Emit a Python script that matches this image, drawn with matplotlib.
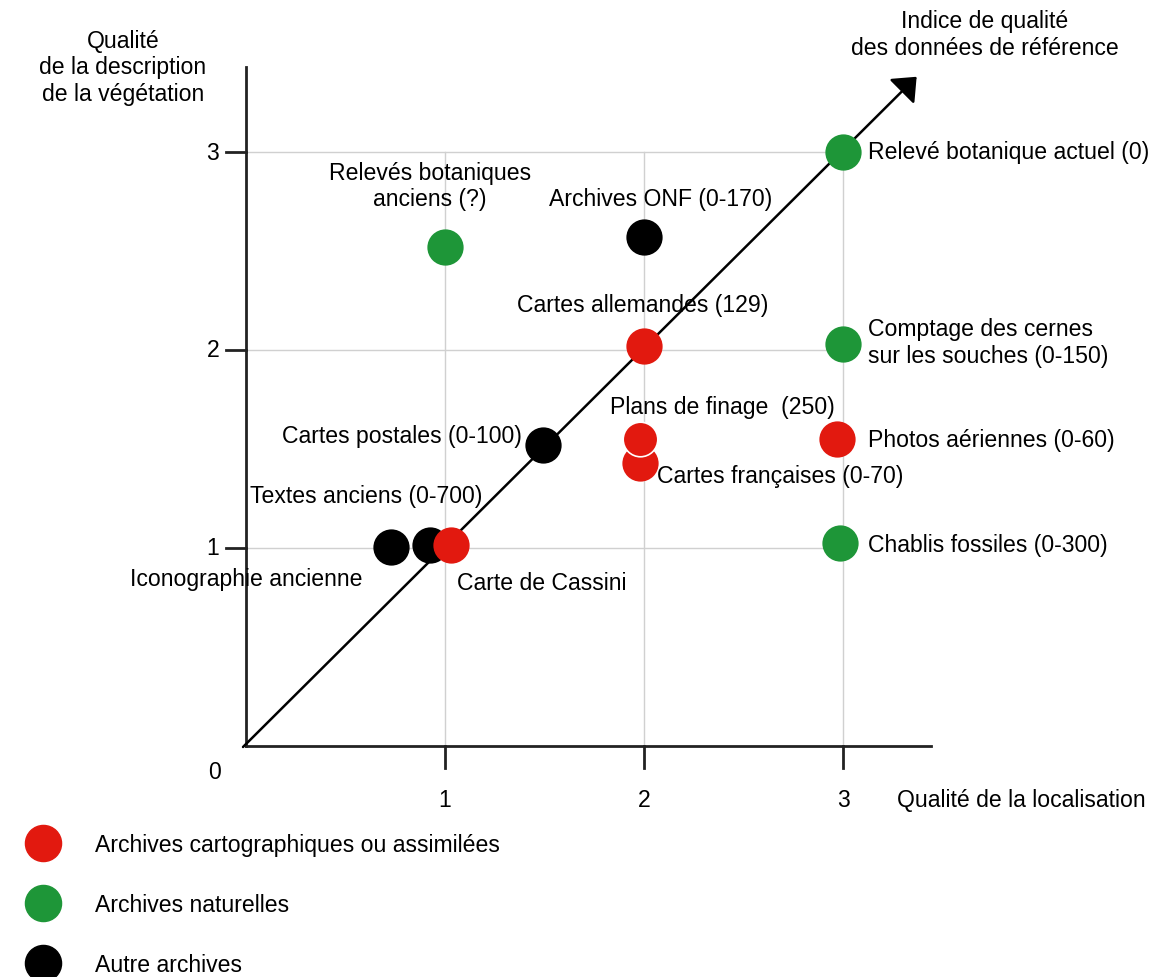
import matplotlib.pyplot as plt
from matplotlib.lines import Line2D

plt.rcParams['font.family'] = ['Liberation Sans', 'DejaVu Sans']

# sources: name, localisation quality (x), vegetation description quality (y), category
names = ['Relevé botanique actuel (0)', 'Relevés botaniques\nanciens (?)', 'Archives ONF (0-170)',
         'Cartes allemandes (129)', 'Comptage des cernes\nsur les souches (0-150)',
         'Cartes françaises (0-70)', 'Plans de finage  (250)', 'Photos aériennes (0-60)',
         'Cartes postales (0-100)', 'Iconographie ancienne', 'Textes anciens (0-700)',
         'Carte de Cassini', 'Chablis fossiles (0-300)']
x_loc = [3.0, 1.0, 2.0, 2.0, 3.0, 1.98, 1.98, 2.97, 1.49, 0.73, 0.925, 1.03, 2.985]
y_veg = [3.0, 2.52, 2.57, 2.02, 2.03, 1.43, 1.55, 1.55, 1.52, 1.005, 1.015, 1.015, 1.025]
cat = ['nat', 'nat', 'autre', 'carto', 'nat', 'carto', 'carto', 'carto', 'autre',
       'autre', 'autre', 'carto', 'nat']

cat_labels = {'carto': 'Archives cartographiques ou assimilées',
              'nat': 'Archives naturelles',
              'autre': 'Autre archives'}
colors = {'carto': '#e2190f', 'nat': '#1e9638', 'autre': 'black'}

# label placement (data units): x, y, horizontal alignment
label_pos = [(3.126, 3.0, 'left'), (0.925, 2.83, 'center'), (1.523, 2.763, 'left'),
             (1.362, 2.232, 'left'), (3.126, 2.04, 'left'), (2.065, 1.364, 'left'),
             (1.829, 1.717, 'left'), (3.126, 1.55, 'left'), (0.181, 1.566, 'left'),
             (-0.583, 0.848, 'left'), (0.02, 1.263, 'left'), (1.06, 0.828, 'left'),
             (3.126, 1.02, 'left')]

ticks = [1, 2, 3]
fs = 16.6
lsp = 1.2

fig = plt.figure(figsize=(11.63, 9.78), dpi=100)
ax = fig.add_axes([0, 0, 1, 1])
ax.set_xlim(-246 / 199, (1163 - 246) / 199)
ax.set_ylim((747 - 978) / 198, 747 / 198)
ax.axis('off')

# grid
for t in ticks:
    ax.plot([t, t], [0, 3], color='#d0d0d0', lw=1, zorder=1)
    ax.plot([0, 3], [t, t], color='#d0d0d0', lw=1, zorder=1)

# axes lines and ticks
ax.plot([0, 0], [0, 3.43], color='#222222', lw=2, zorder=2)
ax.plot([0, 3.44], [0, 0], color='#222222', lw=2, zorder=2)
for t in ticks:
    ax.plot([-0.1, 0], [t, t], color='#222222', lw=2, zorder=2)
    ax.plot([t, t], [0, -0.11], color='#222222', lw=2, zorder=2)
    ax.text(-0.166, t, str(t), fontsize=fs, ha='center', va='center')
    ax.text(t, -0.268, str(t), fontsize=fs, ha='center', va='center')
ax.text(-0.156, -0.131, '0', fontsize=fs, ha='center', va='center')

# diagonal arrow: reference data quality index
ax.annotate('', xy=(3.37, 3.38), xytext=(-0.015, -0.005),
            arrowprops=dict(arrowstyle='-|>,head_length=0.65,head_width=0.55',
                            mutation_scale=20, color='black', lw=1.8,
                            shrinkA=0, shrinkB=0), zorder=3)

# points
for i in range(len(names)):
    edge = 'white' if names[i].startswith('Plans') else colors[cat[i]]
    ax.scatter(x_loc[i], y_veg[i], s=620, color=colors[cat[i]], edgecolors=edge,
               linewidths=1.2, zorder=4 + i * 0.01)
    lx, ly, ha = label_pos[i]
    ax.text(lx, ly, names[i], fontsize=fs, ha=ha, va='center', linespacing=lsp, zorder=6)

ax.text(-0.618, 3.43, 'Qualité\nde la description\nde la végétation', fontsize=fs,
        ha='center', va='center', linespacing=lsp)
ax.text(3.714, 3.596, 'Indice de qualité\ndes données de référence', fontsize=fs,
        ha='center', va='center', linespacing=lsp)
ax.text(3.271, -0.268, 'Qualité de la localisation', fontsize=fs, ha='left', va='center')

handles = [Line2D([], [], marker='o', ls='', markersize=26, color=colors[k]) for k in cat_labels]
fig.legend(handles, list(cat_labels.values()), loc='upper left',
           bbox_to_anchor=(0.0, 1 - 814 / 978), frameon=False, fontsize=fs,
           labelspacing=1.6, handletextpad=1.26, borderpad=0, borderaxespad=0.87)

plt.savefig('out.png', dpi=100)
